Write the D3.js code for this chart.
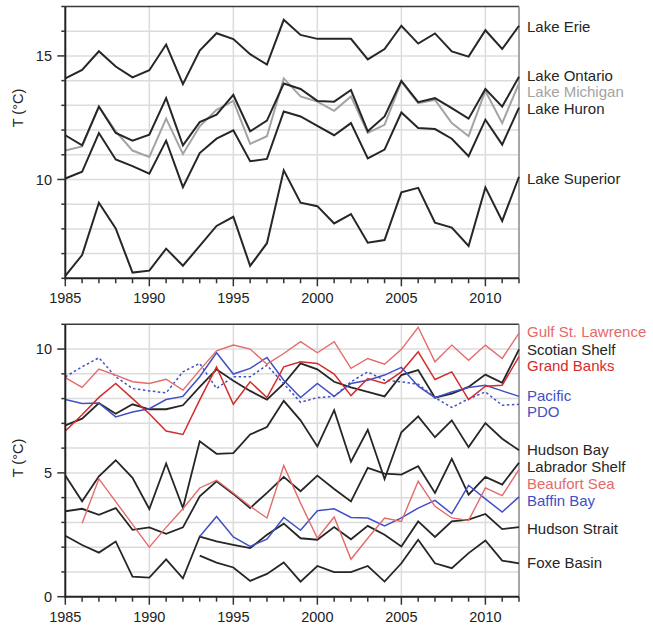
<!DOCTYPE html>
<html><head><meta charset="utf-8">
<script src="https://cdn.jsdelivr.net/npm/d3@7"></script>
<style>body{margin:0;background:#fff;} text{font-family:"Liberation Sans",Arial,sans-serif;}</style>
</head><body>
<svg id="c" width="653" height="632"></svg>
<script>
const years = [1985,1986,1987,1988,1989,1990,1991,1992,1993,1994,1995,1996,1997,1998,1999,2000,2001,2002,2003,2004,2005,2006,2007,2008,2009,2010,2011,2012];
const xTickLabels = [1985,1990,1995,2000,2005,2010];
const topYTickLabels = [10,15];
const bottomYTickLabels = [0,5,10];

// Top panel: Great Lakes
const lakeErie     = [14.09,14.43,15.19,14.57,14.13,14.42,15.46,13.86,15.22,15.92,15.68,15.07,14.65,16.46,15.85,15.69,15.69,15.69,14.86,15.28,16.22,15.5,15.91,15.18,14.97,16.04,15.28,16.22];
const lakeOntario  = [11.79,11.38,12.95,11.88,11.57,11.81,13.29,11.38,12.32,12.62,13.42,11.95,12.38,13.88,13.66,13.18,13.15,13.62,11.95,12.55,13.99,13.13,13.29,12.89,12.46,13.66,12.95,14.16];
const lakeMichigan = [11.17,11.34,12.95,11.95,11.17,10.91,12.46,11.03,12.15,12.82,13.18,11.44,11.75,14.09,13.36,13.15,12.78,13.36,11.88,12.21,13.96,13.09,13.22,12.28,11.75,13.58,12.28,13.89];
const lakeHuron    = [10.04,10.31,11.88,10.81,10.54,10.23,11.57,9.69,11.07,11.65,11.99,10.74,10.83,12.75,12.55,12.17,11.79,12.28,10.85,11.21,12.71,12.08,12.04,11.65,10.94,12.42,11.41,12.91];
const lakeSuperior = [6.10,6.94,9.06,8.02,6.23,6.31,7.20,6.51,7.31,8.12,8.49,6.50,7.42,10.37,9.06,8.92,8.22,8.60,7.44,7.55,9.48,9.66,8.25,8.05,7.31,9.68,8.32,10.11];

// Bottom panel: ocean regions
const gulfStLawrence = [8.85,8.45,9.19,8.95,8.68,8.61,8.78,8.34,9.15,9.93,10.16,10.0,9.39,9.82,10.3,9.85,10.3,9.22,9.62,9.39,9.99,10.88,9.49,10.16,9.55,10.16,9.62,10.64];
const scotianShelf   = [6.92,7.19,7.82,7.39,7.77,7.57,7.57,7.73,8.47,9.18,8.72,8.31,7.96,8.6,9.42,9.18,8.68,8.45,8.27,8.09,8.95,9.15,8.04,8.2,8.47,8.97,8.64,9.99];
const grandBanks     = [6.69,7.35,8.05,8.61,8.0,7.39,6.69,6.55,7.95,9.28,7.77,8.68,8.04,9.28,9.49,9.42,8.99,8.12,8.81,8.61,9.08,9.89,8.77,9.08,7.96,8.5,8.54,9.69];
const pacific        = [7.96,7.80,7.82,7.26,7.46,7.59,7.96,8.09,8.88,9.85,8.99,9.22,9.66,8.74,8.04,8.61,8.09,8.61,8.74,8.95,9.26,8.5,8.04,8.27,8.45,8.54,8.31,8.09];
const pdo            = [8.88,9.28,9.65,8.88,8.41,8.31,8.23,9.08,9.42,8.41,8.88,8.88,9.35,8.6,7.85,8.04,8.09,8.68,9.08,8.74,8.68,8.58,8.04,7.64,7.99,8.27,7.73,7.77];
const hudsonBay      = [4.89,3.85,4.86,5.51,4.8,3.54,5.38,3.58,6.28,5.77,5.80,6.55,6.85,7.91,7.12,6.07,7.53,5.45,6.74,4.75,6.64,7.28,6.44,7.12,6.04,7.01,6.38,5.91];
const labradorShelf  = [3.45,3.55,3.31,3.58,2.70,2.80,2.54,2.80,4.05,4.66,4.15,3.58,4.19,4.84,4.26,4.89,4.35,3.85,5.2,4.97,4.93,5.27,4.19,5.57,4.12,4.84,4.53,5.41];
const beaufortSea    = [null,2.97,4.76,3.84,2.92,2.0,2.8,3.55,4.39,4.70,4.19,3.65,3.18,5.3,3.78,2.36,3.22,1.51,2.36,3.18,3.04,4.66,3.65,3.18,3.08,4.39,4.08,5.14];
const baffinBay      = [null,null,null,null,null,null,null,null,2.43,3.24,2.41,2.03,2.32,3.2,2.68,3.47,3.55,3.2,3.18,2.86,3.18,3.58,3.89,3.35,4.5,3.95,3.42,4.03];
const hudsonStrait   = [2.46,2.09,1.78,2.23,0.81,0.77,1.51,0.74,2.43,2.23,2.09,1.96,2.5,2.95,2.36,2.3,2.81,2.32,2.86,2.5,2.03,3.04,2.41,3.04,3.11,3.34,2.73,2.81];
const foxeBasin      = [null,null,null,null,null,null,null,null,1.66,1.38,1.18,0.64,0.92,1.38,0.61,1.24,0.99,0.99,1.24,0.61,1.35,2.3,1.35,1.15,1.76,2.27,1.46,1.35];

const BLACK="#262626", GRAY="#a3a3a3", LRED="#e46a6a", RED="#d32c2c", BLUE="#4150c4";

const topSeries = [
  {name:"Lake Erie", values:lakeErie, color:BLACK, w:2, labelAt:16.18},
  {name:"Lake Superior", values:lakeSuperior, color:BLACK, w:2, labelAt:10.04},
  {name:"Lake Huron", values:lakeHuron, color:BLACK, w:2, labelAt:12.87},
  {name:"Lake Michigan", values:lakeMichigan, color:GRAY, w:2, labelAt:13.56},
  {name:"Lake Ontario", values:lakeOntario, color:BLACK, w:2, labelAt:14.2}
];
const bottomSeries = [
  {name:"Foxe Basin", values:foxeBasin, color:BLACK, w:1.8, labelAt:1.37},
  {name:"Hudson Strait", values:hudsonStrait, color:BLACK, w:1.8, labelAt:2.74},
  {name:"Labrador Shelf", values:labradorShelf, color:BLACK, w:1.8, labelAt:5.24},
  {name:"Hudson Bay", values:hudsonBay, color:BLACK, w:1.8, labelAt:5.93},
  {name:"Baffin Bay", values:baffinBay, color:BLUE, w:1.5, labelAt:3.87},
  {name:"Beaufort Sea", values:beaufortSea, color:LRED, w:1.4, labelAt:4.56},
  {name:"Scotian Shelf", values:scotianShelf, color:BLACK, w:1.8, labelAt:9.96},
  {name:"PDO", values:pdo, color:BLUE, w:1.5, dash:"2.5,2.5", labelAt:7.46},
  {name:"Pacific", values:pacific, color:BLUE, w:1.5, labelAt:8.1},
  {name:"Grand Banks", values:grandBanks, color:RED, w:1.5, labelAt:9.31},
  {name:"Gulf St. Lawrence", values:gulfStLawrence, color:LRED, w:1.4, labelAt:10.69}
];

const svg = d3.select("#c");
const x = d3.scaleLinear().domain([1985,2012]).range([65.3,519]);

function panel(yDomain, yRange, series, yLabels, labelCenter){
  const y = d3.scaleLinear().domain(yDomain).range(yRange);
  const g = svg.append("g");
  const [y0,y1] = yDomain;
  const ints = d3.range(y0, y1+1);
  g.selectAll(".hg").data(ints.slice(1,-1)).join("line")
    .attr("x1",x(1985)).attr("x2",x(2012)).attr("y1",d=>y(d)).attr("y2",d=>y(d))
    .attr("stroke","#dcdcdc").attr("stroke-width",1.5);
  g.selectAll(".vg").data([1990,1995,2000,2005,2010]).join("line")
    .attr("x1",d=>x(d)).attr("x2",d=>x(d)).attr("y1",y(y0)).attr("y2",y(y1))
    .attr("stroke","#dcdcdc").attr("stroke-width",1.5);
  g.append("line").attr("x1",x(1985)).attr("x2",x(2012)).attr("y1",y(y1)).attr("y2",y(y1)).attr("stroke","#3a3a3a").attr("stroke-width",1.5);
  g.append("line").attr("x1",x(2012)).attr("x2",x(2012)).attr("y1",y(y0)).attr("y2",y(y1)).attr("stroke","#8a8a8a").attr("stroke-width",1.5);
  const line = d3.line().defined(d=>d[1]!=null).x(d=>x(d[0])).y(d=>y(d[1]));
  series.forEach(s=>{
    g.append("path").datum(years.map((yr,i)=>[yr,s.values[i]]))
      .attr("d",line).attr("fill","none").attr("stroke",s.color)
      .attr("stroke-width",s.w).attr("stroke-linejoin","miter")
      .attr("stroke-dasharray",s.dash||null);
    g.append("text").attr("x",527).attr("y",y(s.labelAt)).attr("dy","0.35em")
      .attr("font-size",15).attr("fill",s.color).text(s.name);
  });
  const ax = g.append("g").attr("transform",`translate(0,${y(y0)})`);
  ax.append("line").attr("x1",x(1985)-1).attr("x2",x(2012)).attr("stroke","#222").attr("stroke-width",2);
  ax.selectAll(".xt").data(years).join("line")
    .attr("x1",d=>x(d)).attr("x2",d=>x(d)).attr("y1",0).attr("y2",d=>d%5===0?8:5)
    .attr("stroke","#333").attr("stroke-width",1.5);
  ax.selectAll(".xl").data(xTickLabels).join("text")
    .attr("x",d=>x(d)).attr("y",25).attr("text-anchor","middle").attr("font-size",14.5).attr("fill","#222").text(d=>d);
  const ay = g.append("g");
  ay.append("line").attr("x1",x(1985)).attr("x2",x(1985)).attr("y1",y(y0)+1).attr("y2",y(y1)).attr("stroke","#222").attr("stroke-width",2);
  ay.selectAll(".yt").data(ints).join("line")
    .attr("x1",d=>x(1985)-(yLabels.includes(d)?8:4)).attr("x2",x(1985)).attr("y1",d=>y(d)).attr("y2",d=>y(d))
    .attr("stroke","#333").attr("stroke-width",1.5);
  ay.selectAll(".yl").data(yLabels).join("text")
    .attr("x",52).attr("y",d=>y(d)).attr("dy","0.35em").attr("text-anchor","end").attr("font-size",14.5).attr("fill","#222").text(d=>d);
  g.append("text").attr("transform",`translate(23,${labelCenter}) rotate(-90)`).attr("text-anchor","middle")
    .attr("font-size",14.5).attr("fill","#222").text("T (°C)");
}

panel([6,17],[278.3,6.5], topSeries, topYTickLabels, 108);
panel([0,11],[596.7,324.3], bottomSeries, bottomYTickLabels, 458);
</script>
</body></html>
